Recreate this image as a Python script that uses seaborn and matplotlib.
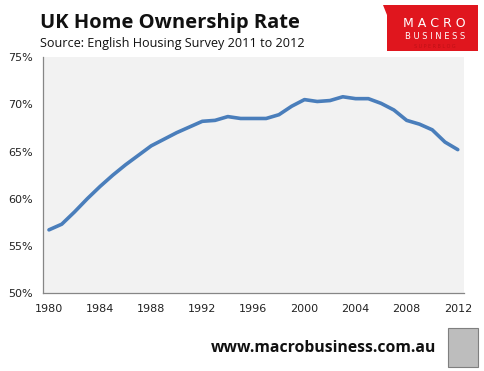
import numpy as np
import pandas as pd
import matplotlib
matplotlib.use("Agg")
import matplotlib.pyplot as plt
import seaborn as sns
from matplotlib.patches import Polygon, Rectangle
from matplotlib.ticker import FixedLocator, FuncFormatter

years = list(range(1980, 2013))
rates = [56.7, 57.3, 58.6, 60.0, 61.3, 62.5, 63.6, 64.6, 65.6, 66.3,
         67.0, 67.6, 68.2, 68.3, 68.7, 68.5, 68.5, 68.5, 68.9, 69.8,
         70.5, 70.3, 70.4, 70.8, 70.6, 70.6, 70.1, 69.4, 68.3, 67.9,
         67.3, 66.0, 65.2]
label_years = [1980, 1984, 1988, 1992, 1996, 2000, 2004, 2008, 2012]
y_ticks = [50, 55, 60, 65, 70, 75]

title = "UK Home Ownership Rate"
subtitle = "Source: English Housing Survey 2011 to 2012"
footer = "www.macrobusiness.com.au"

df = pd.DataFrame({"Year": years, "Rate": rates})

sns.set_theme(style="white")
plt.rcParams['font.family'] = ['DejaVu Sans']

fig = plt.figure(figsize=(4.84, 3.71), dpi=100)
fig.patch.set_facecolor("white")
ax = fig.add_axes([0.088, 0.21, 0.871, 0.636])
ax.set_facecolor("#f2f2f2")

sns.lineplot(data=df, x="Year", y="Rate", ax=ax, color="#4a7ebb", linewidth=2.6)

ax.set_xlim(1979.5, 2012.5)
ax.set_ylim(50, 75)
ax.set_xlabel("")
ax.set_ylabel("")

# labels sit at category centres, tick marks at category boundaries
ax.xaxis.set_major_locator(FixedLocator(label_years))
ax.xaxis.set_minor_locator(FixedLocator([y - 0.5 for y in label_years]))
ax.tick_params(axis="x", which="major", length=0, pad=8, labelsize=8, colors="#222222")
ax.tick_params(axis="x", which="minor", length=4, width=0.8, color="#868686", direction="out")
ax.set_yticks(y_ticks)
ax.yaxis.set_major_formatter(FuncFormatter(lambda v, p: f"{v:.0f}%"))
ax.tick_params(axis="y", which="major", length=4, width=0.8, color="#868686",
               direction="out", labelsize=8, pad=3)
ax.tick_params(axis="y", labelcolor="#222222")

for side in ["top", "right"]:
    ax.spines[side].set_visible(False)
for side in ["left", "bottom"]:
    ax.spines[side].set_color("#868686")
    ax.spines[side].set_linewidth(0.9)

fig.text(0.083, 0.925, title, fontsize=14.5, fontweight="bold", family="Open Sans",
         ha="left", va="baseline", color="#111111")
fig.text(0.083, 0.872, subtitle, fontsize=9.1, family="Open Sans",
         ha="left", va="baseline", color="#111111")

# logo block
logo = Polygon([(0.791, 0.987), (0.988, 0.987), (0.988, 0.862), (0.80, 0.862), (0.80, 0.96)],
               closed=True, transform=fig.transFigure, facecolor="#e0161e", edgecolor="none")
fig.patches.append(logo)
fig.text(0.898, 0.936, "M A C R O", fontsize=9, color="white", ha="center", va="center",
         family="DejaVu Sans")
fig.text(0.898, 0.901, "B U S I N E S S", fontsize=6, color="white", ha="center", va="center",
         family="DejaVu Sans")
fig.text(0.898, 0.874, "S U P E R B L O G", fontsize=3.5, color="#c01016", ha="center", va="center")

fig.text(0.435, 0.052, footer, fontsize=11.3, fontweight="bold", family="Open Sans",
         ha="left", va="baseline", color="#111111")
wolf = Rectangle((0.925, 0.01), 0.062, 0.105, transform=fig.transFigure,
                 facecolor="#bdbdbd", edgecolor="#7f7f7f", linewidth=0.8)
fig.patches.append(wolf)

fig.savefig("out.png", dpi=100)
